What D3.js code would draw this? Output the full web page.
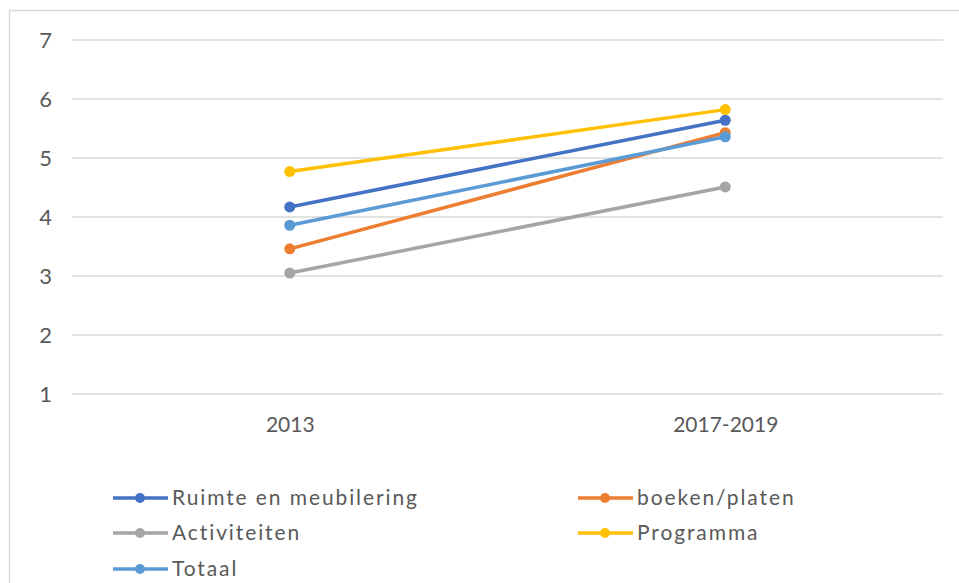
<!DOCTYPE html>
<html>
<head>
<meta charset="utf-8">
<script src="https://cdn.jsdelivr.net/npm/d3@7"></script>
<style>
  body { margin: 0; background: #fff; }
  text { font-family: Lato, "Open Sans", sans-serif; fill: #595959; }
</style>
</head>
<body>
<div id="chart"></div>
<script>
// data
const periods = ['2013', '2017-2019'];
const seriesNames = ['Ruimte en meubilering', 'boeken/platen', 'Activiteiten', 'Programma', 'Totaal'];
const ruimte = [4.17, 5.64];
const boeken = [3.46, 5.43];
const activiteiten = [3.05, 4.51];
const programma = [4.77, 5.82];
const totaal = [3.86, 5.36];
const yTicks = [1, 2, 3, 4, 5, 6, 7];

const colors = ['#4472C4', '#ED7D31', '#A5A5A5', '#FFC000', '#5B9BD5'];
const values = [ruimte, boeken, activiteiten, programma, totaal];

const W = 959, H = 583;
const plot = {left: 72, right: 943, top: 40, bottom: 394};
const font = 'Lato, "Open Sans", sans-serif';

const svg = d3.select('#chart').append('svg')
  .attr('width', W).attr('height', H);

// chart frame (only top and left visible)
svg.append('path')
  .attr('d', `M9.5,${H} V10.5 H${W}`)
  .attr('fill', 'none').attr('stroke', '#d9d9d9').attr('stroke-width', 1.5);

const x = d3.scalePoint().domain(periods).range([plot.left, plot.right]).padding(0.5);
const y = d3.scaleLinear().domain([1, 7]).range([plot.bottom, plot.top]);

// gridlines
svg.append('g').selectAll('line').data(yTicks).join('line')
  .attr('x1', plot.left).attr('x2', plot.right)
  .attr('y1', d => y(d)).attr('y2', d => y(d))
  .attr('stroke', '#d9d9d9').attr('stroke-width', 1.5);

// y axis labels
const yaxis = d3.axisLeft(y).tickValues(yTicks).tickFormat(d3.format('d')).tickSize(0).tickPadding(0);
svg.append('g').attr('transform', 'translate(52,0)').call(yaxis)
  .call(g => g.select('.domain').remove())
  .selectAll('text').attr('font-size', 22).attr('fill', '#595959')
  .style('font-family', font);

// x axis labels
const xaxis = d3.axisBottom(x).tickSize(0).tickPadding(0);
svg.append('g').attr('transform', 'translate(0,417)').call(xaxis)
  .call(g => g.select('.domain').remove())
  .selectAll('text').attr('font-size', 21).attr('fill', '#595959')
  .style('font-family', font);

// series
const line = d3.line().x((d, i) => x(periods[i])).y(d => y(d));
seriesNames.forEach((name, s) => {
  const g = svg.append('g');
  g.append('path').datum(values[s])
    .attr('d', line)
    .attr('fill', 'none').attr('stroke', colors[s]).attr('stroke-width', 3.5)
    .attr('stroke-linecap', 'round');
  g.selectAll('circle').data(values[s]).join('circle')
    .attr('cx', (d, i) => x(periods[i]))
    .attr('cy', d => y(d))
    .attr('r', 5.5).attr('fill', colors[s]);
});

// legend
const legendPos = [[113, 498], [578, 498], [113, 533], [578, 533], [113, 569]];
seriesNames.forEach((name, s) => {
  const [lx, ly] = legendPos[s];
  const g = svg.append('g').attr('transform', `translate(${lx},${ly})`);
  g.append('line').attr('x1', 0).attr('x2', 55).attr('y1', 0).attr('y2', 0)
    .attr('stroke', colors[s]).attr('stroke-width', 3.5);
  g.append('circle').attr('cx', 27).attr('cy', 0).attr('r', 5).attr('fill', colors[s]);
  g.append('text').attr('x', 59).attr('y', 0).attr('dy', '0.35em')
    .attr('font-size', 21).attr('letter-spacing', 1.9).text(name);
});
</script>
</body>
</html>
